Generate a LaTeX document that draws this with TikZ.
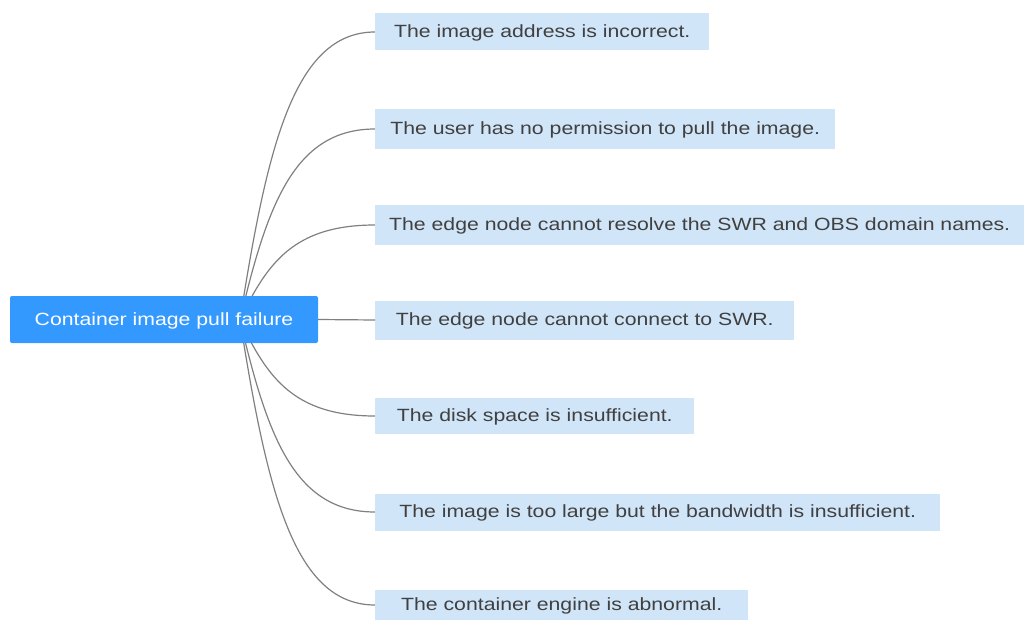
\documentclass[tikz,border=0pt]{standalone}
\usepackage{fontspec}
\setmainfont{Liberation Sans}[FakeStretch=1.2]
\usetikzlibrary{calc,backgrounds}
\definecolor{rootblue}{RGB}{51,153,255}
\definecolor{leafblue}{RGB}{209,229,248}
\definecolor{leaftext}{RGB}{64,64,64}
\definecolor{linkgray}{RGB}{128,128,128}
\newcommand\mmbranch[2]{%
  \draw[link] let \p1=(#1), \p2=(#2.west) in
    (\p1) .. controls ({\x1+0.2*(\x2-\x1)},{\y1+0.6*(\y2-\y1)})
             and ({\x2-0.6*(\x2-\x1)},{\y2}) .. (\p2);}
\begin{document}
\begin{tikzpicture}[x=1pt,y=-1pt,
  txt/.style={font=\fontsize{17.7}{20}\selectfont,text height=12.7pt,text depth=1.2pt},
  rootbox/.style={txt,fill=rootblue,rounded corners=2pt,text=white,
    minimum width=308pt,minimum height=47pt,inner sep=0pt},
  leaf/.style={txt,fill=leafblue,text=leaftext,anchor=west,inner sep=0pt},
  link/.style={draw=linkgray,line width=1.2pt}]
\useasboundingbox (0,0) rectangle (1024,620);
\node[rootbox] (root) at (164,319.5) {Container image pull failure};
\coordinate (hub) at (240,320);
\node[leaf,minimum width=334pt,minimum height=37pt] (c1) at (375,32) {The image address is incorrect.};
\node[leaf,minimum width=460pt,minimum height=40pt] (c2) at (375,129) {The user has no permission to pull the image.};
\node[leaf,minimum width=649pt,minimum height=39pt] (c3) at (375,225) {The edge node cannot resolve the SWR and OBS domain names.};
\node[leaf,minimum width=419pt,minimum height=39pt] (c4) at (375,320) {The edge node cannot connect to SWR.};
\node[leaf,minimum width=319pt,minimum height=36pt] (c5) at (375,416) {The disk space is insufficient.};
\node[leaf,minimum width=565pt,minimum height=37pt] (c6) at (375,512) {The image is too large but the bandwidth is insufficient.};
\node[leaf,minimum width=373pt,minimum height=30pt] (c7) at (375,605) {The container engine is abnormal.};
\begin{scope}[on background layer]
\mmbranch{hub}{c1}
\mmbranch{hub}{c2}
\mmbranch{hub}{c3}
\mmbranch{hub}{c5}
\mmbranch{hub}{c6}
\mmbranch{hub}{c7}
\end{scope}
\draw[link] (root.east) -- (c4.west);
\end{tikzpicture}
\end{document}
